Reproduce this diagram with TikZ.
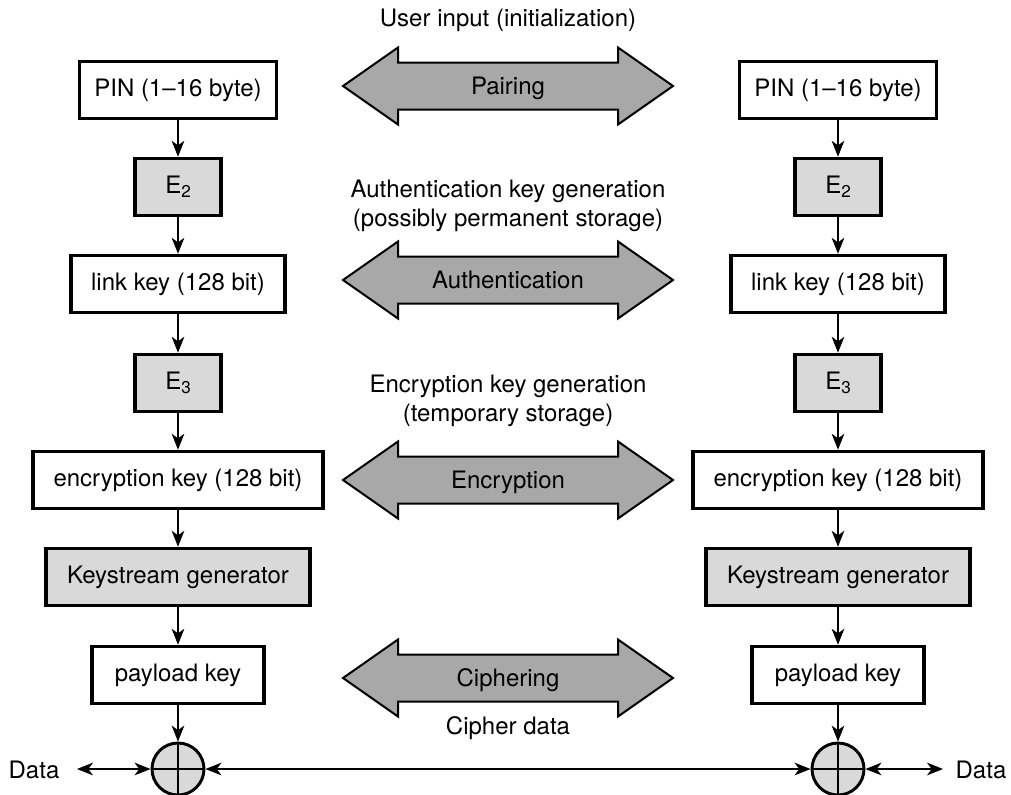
\documentclass[tikz,border=0pt]{standalone}
\usepackage{fontspec}
\setmainfont{TeX Gyre Heros}
\usetikzlibrary{arrows.meta}
\definecolor{boxgray}{HTML}{D9D9D9}
\definecolor{arrgray}{HTML}{A8A8A8}
\newcommand{\sbs}[1]{\raisebox{-0.35ex}{\fontsize{12.8}{12.8}\selectfont #1}}
\begin{document}
\begin{tikzpicture}[x={(0.75pt,0pt)}, y={(0pt,-0.75pt)},
  every node/.style={font=\fontsize{18}{21.5}\selectfont, text height=12.9pt, text depth=3.8pt},
  keybox/.style={draw, line width=2.4pt, fill=white, minimum height=43pt, inner sep=0pt},
  funbox/.style={keybox, fill=boxgray, minimum width=64.5pt},
  xorc/.style={circle, draw, line width=2.2pt, fill=boxgray, minimum size=39pt, inner sep=0pt},
  flow/.style={line width=0.9pt, -{Stealth[length=12pt,width=9.5pt,inset=3.5pt]}},
  both/.style={line width=0.9pt, {Stealth[length=12pt,width=9.5pt,inset=3.5pt]}-{Stealth[length=12pt,width=9.5pt,inset=3.5pt]}},
  bigarrow/.style={draw, line width=1.5pt, fill=arrgray, line join=miter},
  lbl/.style={inner sep=0pt}
]
\useasboundingbox (0,0) rectangle (1011,794);

% big double arrows
\foreach \c in {86,280,480,678}{
  \draw[bigarrow] (343,\c) -- (398,\c-38.5) -- (398,\c-23.5) -- (618,\c-23.5) -- (618,\c-38.5)
    -- (673,\c) -- (618,\c+38.5) -- (618,\c+23.5) -- (398,\c+23.5) -- (398,\c+38.5) -- cycle;
}
\node[lbl] (pairing) at (508,88) {Pairing};
\node[lbl] (auth) at (508,282) {Authentication};
\node[lbl] (encr) at (508,482) {Encryption};
\node[lbl] (ciph) at (508,680) {Ciphering};

% middle texts
\node[lbl] (t1) at (508,20) {User input (initialization)};
\node[lbl] (t2) at (508,191) {Authentication key generation};
\node[lbl] (t3) at (508,220) {(possibly permanent storage)};
\node[lbl] (t4) at (508,386) {Encryption key generation};
\node[lbl] (t5) at (508,415) {(temporary storage)};
\node[lbl] (t6) at (508,728) {Cipher data};

% left column
\node[keybox, minimum width=147.75pt] (pinL) at (178,90) {PIN (1–16 byte)};
\node[funbox] (e2L) at (178,187) {E\sbs{2}};
\node[keybox, minimum width=160.5pt] (linkL) at (178,284) {link key (128 bit)};
\node[funbox] (e3L) at (178,383) {E\sbs{3}};
\node[keybox, minimum width=217.5pt] (encL) at (178,480) {encryption key (128 bit)};
\node[keybox, fill=boxgray, minimum width=198pt] (ksL) at (178,577) {Keystream generator};
\node[keybox, minimum width=129pt] (payL) at (178,675) {payload key};
\node[xorc] (xorL) at (178,769) {};

% right column
\node[keybox, minimum width=147.75pt] (pinR) at (838,90) {PIN (1–16 byte)};
\node[funbox] (e2R) at (838,187) {E\sbs{2}};
\node[keybox, minimum width=160.5pt] (linkR) at (838,284) {link key (128 bit)};
\node[funbox] (e3R) at (838,383) {E\sbs{3}};
\node[keybox, minimum width=217.5pt] (encR) at (838,480) {encryption key (128 bit)};
\node[keybox, fill=boxgray, minimum width=198pt] (ksR) at (838,577) {Keystream generator};
\node[keybox, minimum width=129pt] (payR) at (838,675) {payload key};
\node[xorc] (xorR) at (838,769) {};

% crosses in xor circles
\foreach \n in {xorL,xorR}{
  \draw[line width=0.9pt] (\n.north) -- (\n.south);
  \draw[line width=0.9pt] (\n.west) -- (\n.east);
}

% vertical flows
\foreach \s in {L,R}{
  \draw[flow] (pin\s) -- (e2\s);
  \draw[flow] (e2\s) -- (link\s);
  \draw[flow] (link\s) -- (e3\s);
  \draw[flow] (e3\s) -- (enc\s);
  \draw[flow] (enc\s) -- (ks\s);
  \draw[flow] (ks\s) -- (pay\s);
  \draw[flow] (pay\s) -- (xor\s);
}

% data lines
\node[lbl] (dataL) at (34,772) {Data};
\node[lbl] (dataR) at (981,772) {Data};
\coordinate (dLend) at (77,769);
\coordinate (dRend) at (943,769);
\draw[both] (dLend) -- (xorL);
\draw[both] (xorL) -- (xorR);
\draw[both] (xorR) -- (dRend);
\end{tikzpicture}
\end{document}
